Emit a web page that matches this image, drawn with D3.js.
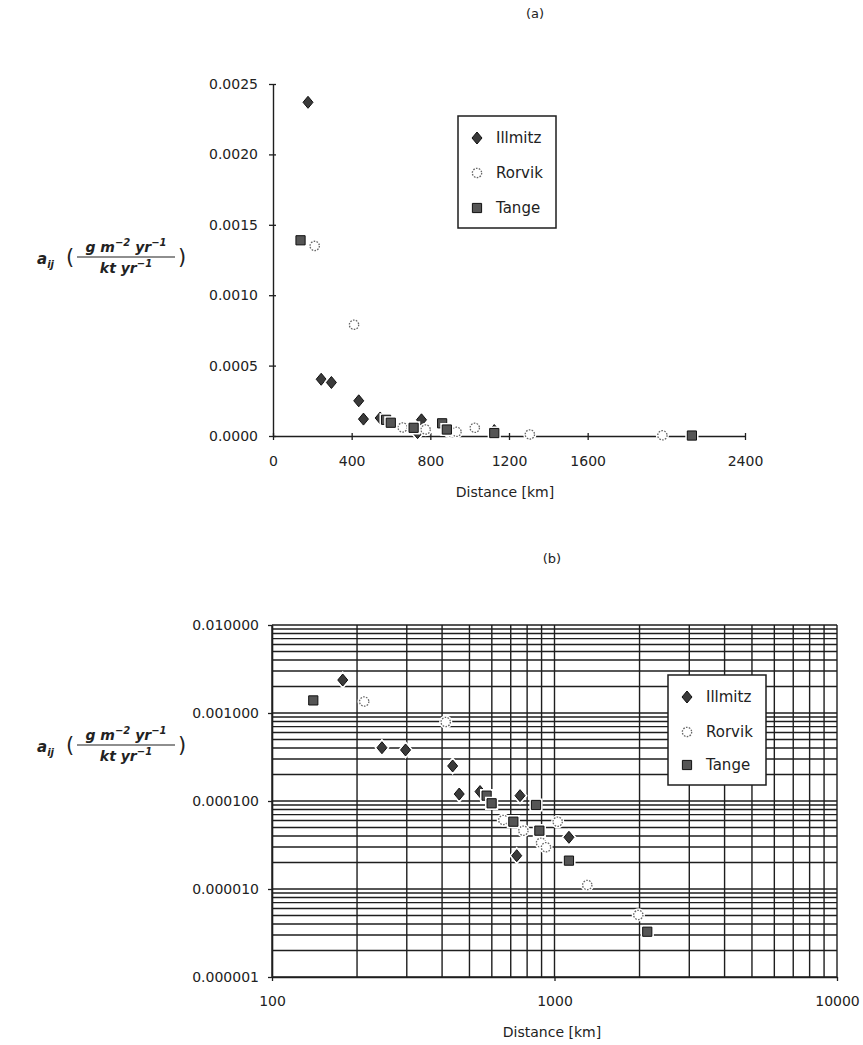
<!DOCTYPE html>
<html>
<head>
<meta charset="utf-8">
<script src="https://cdn.jsdelivr.net/npm/d3@7"></script>
<style>
  body { margin: 0; background: #fff; }
  svg text { font-family: "DejaVu Sans", sans-serif; fill: #222; }
</style>
</head>
<body>
<div id="chart"></div>
<script>
// data (distance in km, coefficient a_ij)
var illmitzDist = [178, 245, 297, 436, 460, 545, 755, 1125, 735];
var illmitzVal  = [0.00237, 0.000403, 0.00038, 0.00025, 0.00012, 0.000128, 0.000115, 0.0000387, 0.0000239];
var rorvikDist  = [212, 412, 659, 776, 896, 933, 1026, 1306, 1980];
var rorvikVal   = [0.00135, 0.00079, 0.0000608, 0.000046, 0.0000336, 0.0000298, 0.0000582, 0.0000111, 0.00000507];
var tangeDist   = [140, 575, 599, 715, 860, 884, 1125, 2130];
var tangeVal    = [0.00139, 0.000115, 0.0000942, 0.0000582, 0.0000901, 0.000046, 0.000021, 0.00000327];

var seriesNames = ['Illmitz', 'Rorvik', 'Tange'];
var linXTicks = [0, 400, 800, 1200, 1600, 2400];
var linYTicks = [0, 0.0005, 0.0010, 0.0015, 0.0020, 0.0025];
var logXTicks = [100, 1000, 10000];
var logYTicks = [0.01, 0.001, 0.0001, 0.00001, 0.000001];

var svgW = 863, svgH = 1045;
var ink = '#1e1e1e';

var svg = d3.select('#chart').append('svg')
    .attr('width', svgW)
    .attr('height', svgH);

// zip the arrays into point lists
function pts(dist, val) { return dist.map(function (d, i) { return {d: d, v: val[i]}; }); }
var series = [pts(illmitzDist, illmitzVal), pts(rorvikDist, rorvikVal), pts(tangeDist, tangeVal)];

// marker shapes
function markerPath(kind) {
    if (kind == 0) return 'M0,-6L5,0L0,6L-5,0Z';
    if (kind == 1) return d3.symbol(d3.symbolCircle, 68)();
    return 'M-4.6,-4.6H4.6V4.6H-4.6Z';
}
function drawMarker(g, kind, x, y) {
    var m = g.append('g').attr('transform', 'translate(' + x + ',' + y + ')');
    // white halo that cuts the grid lines
    m.append('path').attr('d', markerPath(kind))
        .attr('fill', '#fff').attr('stroke', '#fff').attr('stroke-width', 4);
    if (kind == 1) {
        m.append('path').attr('d', markerPath(kind))
            .attr('fill', '#fff').attr('stroke', '#666')
            .attr('stroke-width', 1.3).attr('stroke-dasharray', '1.6,1.3');
    } else {
        m.append('path').attr('d', markerPath(kind))
            .attr('fill', kind == 0 ? '#3a3a3a' : '#555').attr('stroke', '#111').attr('stroke-width', 1);
    }
}

function drawLegend(x, y, w, h, rows) {
    var g = svg.append('g');
    g.append('rect').attr('x', x).attr('y', y).attr('width', w).attr('height', h)
        .attr('fill', '#fff').attr('stroke', ink).attr('stroke-width', 1.5);
    seriesNames.forEach(function (name, i) {
        drawMarker(g, i, x + 19, rows[i]);
        g.append('text').attr('x', x + 38).attr('y', rows[i]).attr('dy', '0.35em')
            .attr('font-size', 15).text(name);
    });
}

// y axis label with the fraction
function yLabel(x, bar) {
    var g = svg.append('g').attr('fill', ink);
    var serif = '"DejaVu Serif", "Liberation Serif", serif';
    var a = g.append('text').attr('x', x).attr('y', bar + 7)
        .attr('font-family', serif).attr('font-style', 'italic').attr('font-weight', 'bold').attr('font-size', 15);
    a.append('tspan').text('a');
    a.append('tspan').attr('font-size', 10).attr('dy', 4).text('ij');
    g.append('text').attr('x', x + 29).attr('y', bar + 7).attr('font-family', serif).attr('font-size', 21).text('(');
    var num = g.append('text').attr('x', x + 89).attr('y', bar - 5).attr('text-anchor', 'middle')
        .attr('font-family', serif).attr('font-style', 'italic').attr('font-weight', 'bold').attr('font-size', 14);
    num.append('tspan').text('g m');
    num.append('tspan').attr('font-size', 10).attr('dy', -6).text('\u22122');
    num.append('tspan').attr('dy', 6).text(' yr');
    num.append('tspan').attr('font-size', 10).attr('dy', -6).text('\u22121');
    g.append('line').attr('x1', x + 40).attr('x2', x + 138).attr('y1', bar).attr('y2', bar)
        .attr('stroke', ink).attr('stroke-width', 1.2);
    var den = g.append('text').attr('x', x + 89).attr('y', bar + 16).attr('text-anchor', 'middle')
        .attr('font-family', serif).attr('font-style', 'italic').attr('font-weight', 'bold').attr('font-size', 14);
    den.append('tspan').text('kt yr');
    den.append('tspan').attr('font-size', 10).attr('dy', -6).text('\u22121');
    g.append('text').attr('x', x + 141).attr('y', bar + 7).attr('font-family', serif).attr('font-size', 21).text(')');
}

// ---------- (a) linear plot ----------
var xA = d3.scaleLinear().domain([0, 2400]).range([273, 745]);
var yA = d3.scaleLinear().domain([0, 0.0025]).range([436, 84]);

svg.append('text').attr('x', 535).attr('y', 18).attr('text-anchor', 'middle').attr('font-size', 13).text('(a)');

var axA = svg.append('g').attr('transform', 'translate(0,' + yA(0) + ')')
    .call(d3.axisBottom(xA).tickValues(linXTicks).tickSizeOuter(0).tickFormat(d3.format('d')));
var ayA = svg.append('g').attr('transform', 'translate(' + xA(0) + ',0)')
    .call(d3.axisLeft(yA).tickValues(linYTicks).tickSizeOuter(0).tickFormat(d3.format('.4f')));
[axA, ayA].forEach(function (ax) {
    ax.select('.domain').attr('stroke', ink).attr('stroke-width', 1.4);
    ax.selectAll('.tick line').attr('stroke', ink).attr('stroke-width', 1.3);
    ax.selectAll('text').attr('font-size', 14).attr('font-family', '"DejaVu Sans", sans-serif').attr('fill', '#222');
});
axA.selectAll('.tick line').attr('y1', -3).attr('y2', 4);
axA.selectAll('.tick text').attr('y', 20);
ayA.selectAll('.tick line').attr('x1', -4).attr('x2', 3);
ayA.selectAll('.tick text').attr('x', -15);

svg.append('text').attr('x', 505).attr('y', 492).attr('dy', '0.35em').attr('text-anchor', 'middle')
    .attr('font-size', 14).text('Distance [km]');
yLabel(37, 257);

var plotA = svg.append('g');
series.forEach(function (s, k) {
    s.forEach(function (p) { drawMarker(plotA, k, xA(p.d), yA(p.v)); });
});
drawLegend(458, 116, 98, 112, [138, 173, 208]);

// ---------- (b) log-log plot ----------
var xB = d3.scaleLog().domain([100, 10000]).range([272, 837]);
var yB = d3.scaleLog().domain([0.000001, 0.01]).range([977, 625]);

svg.append('text').attr('x', 552).attr('y', 558).attr('dy', '0.35em').attr('text-anchor', 'middle')
    .attr('font-size', 13).text('(b)');

var grid = svg.append('g').attr('stroke', ink);
grid.selectAll('.h').data(yB.ticks()).enter().append('line')
    .attr('x1', xB(100)).attr('x2', xB(10000))
    .attr('y1', function (d) { return yB(d); }).attr('y2', function (d) { return yB(d); })
    .attr('stroke-width', 1.4);
grid.selectAll('.v').data(xB.ticks()).enter().append('line')
    .attr('y1', yB(0.01)).attr('y2', yB(0.000001))
    .attr('x1', function (d) { return xB(d); }).attr('x2', function (d) { return xB(d); })
    .attr('stroke-width', 1.4);

var axB = svg.append('g').attr('transform', 'translate(0,' + yB(0.000001) + ')')
    .call(d3.axisBottom(xB).tickValues(logXTicks).tickSize(4).tickSizeOuter(0).tickFormat(d3.format('d')));
var ayB = svg.append('g').attr('transform', 'translate(' + xB(100) + ',0)')
    .call(d3.axisLeft(yB).tickValues(logYTicks).tickSize(4).tickSizeOuter(0).tickFormat(d3.format('.6f')));
[axB, ayB].forEach(function (ax) {
    ax.select('.domain').attr('stroke', ink).attr('stroke-width', 1.6);
    ax.selectAll('.tick line').attr('stroke', ink).attr('stroke-width', 1.3);
    ax.selectAll('text').attr('font-size', 14).attr('font-family', '"DejaVu Sans", sans-serif').attr('fill', '#222');
});
axB.selectAll('.tick text').attr('y', 19);
ayB.selectAll('.tick text').attr('x', -13);

svg.append('text').attr('x', 552).attr('y', 1032).attr('dy', '0.35em').attr('text-anchor', 'middle')
    .attr('font-size', 14).text('Distance [km]');
yLabel(37, 745);

var plotB = svg.append('g');
series.forEach(function (s, k) {
    s.forEach(function (p) { drawMarker(plotB, k, xB(p.d), yB(p.v)); });
});
drawLegend(668, 675, 98, 110, [697, 732, 765]);
</script>
</body>
</html>
